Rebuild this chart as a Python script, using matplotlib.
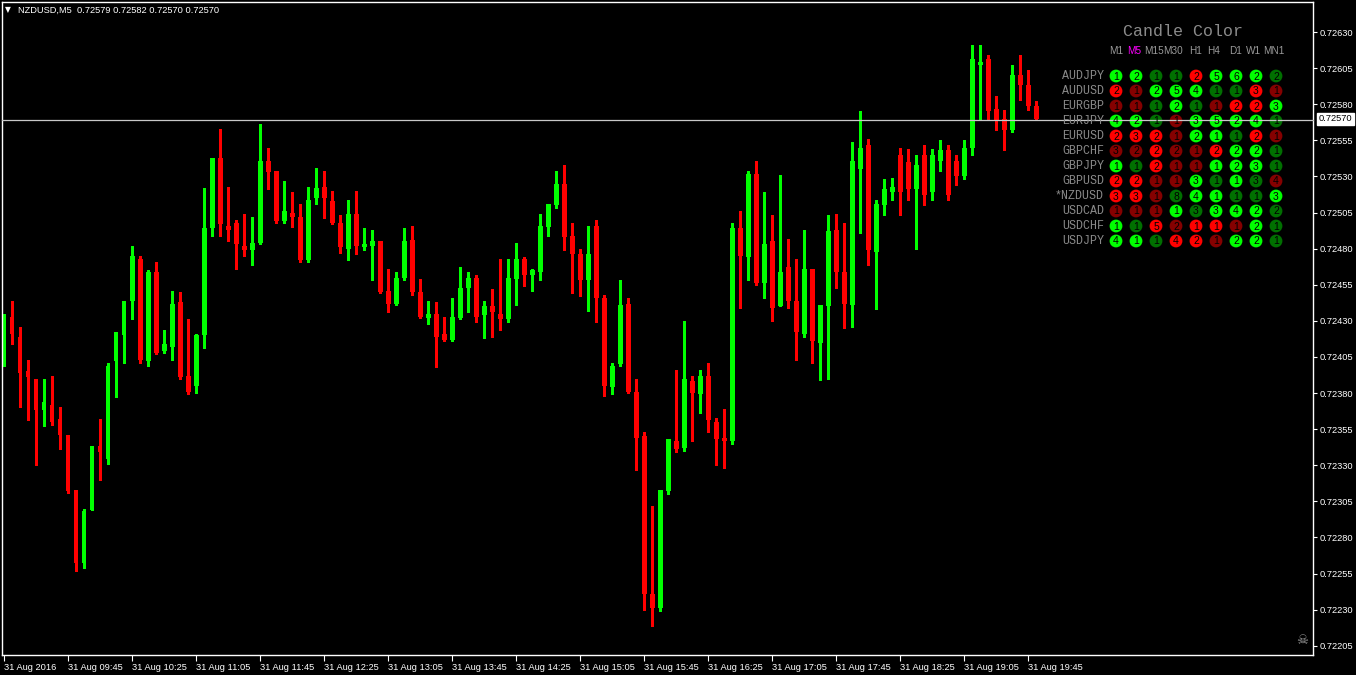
import matplotlib.pyplot as plt
from matplotlib.patches import Rectangle, Circle

plt.rcParams['font.family'] = ['Liberation Sans', 'DejaVu Sans']

# NZDUSD M5 candles, prices in points (1e-5)
opens = [72412, 72433, 72419, 72395, 72390, 72368, 72372, 72362, 72351, 72313,
         72262, 72299, 72343, 72334, 72402, 72420, 72444, 72473, 72402, 72464,
         72409, 72412, 72443, 72392, 72385, 72420, 72494, 72543, 72496, 72498,
         72482, 72479, 72484, 72541, 72534, 72499, 72505, 72502, 72472, 72515,
         72523, 72513, 72498, 72480, 72504, 72481, 72482, 72485, 72451, 72442,
         72460, 72486, 72450, 72432, 72435, 72421, 72417, 72432, 72453, 72460,
         72434, 72440, 72435, 72431, 72459, 72473, 72462, 72464, 72495, 72510,
         72525, 72489, 72476, 72458, 72496, 72446, 72384, 72400, 72442, 72381,
         72350, 72241, 72231, 72312, 72347, 72342, 72388, 72379, 72392, 72360,
         72349, 72347, 72494, 72474, 72532, 72456, 72485, 72440, 72467, 72444,
         72421, 72466, 72415, 72440, 72493, 72464, 72441, 72535, 72552, 72478,
         72510, 72519, 72545, 72540, 72521, 72545, 72519, 72541, 72548, 72541,
         72530, 72550, 72607, 72611, 72577, 72570, 72562, 72600, 72593, 72579]
highs = [72435, 72444, 72426, 72403, 72390, 72390, 72392, 72370, 72351, 72313,
         72300, 72343, 72362, 72401, 72422, 72444, 72482, 72475, 72465, 72471,
         72424, 72451, 72450, 72431, 72421, 72522, 72543, 72563, 72523, 72500,
         72504, 72502, 72566, 72550, 72534, 72527, 72519, 72511, 72523, 72536,
         72534, 72520, 72503, 72514, 72520, 72494, 72493, 72485, 72466, 72464,
         72494, 72496, 72459, 72444, 72443, 72433, 72446, 72467, 72464, 72462,
         72444, 72452, 72473, 72473, 72484, 72474, 72466, 72504, 72511, 72534,
         72538, 72498, 72480, 72496, 72500, 72448, 72401, 72458, 72446, 72390,
         72353, 72302, 72313, 72348, 72396, 72430, 72392, 72396, 72401, 72363,
         72369, 72498, 72506, 72534, 72541, 72519, 72503, 72531, 72487, 72473,
         72493, 72466, 72441, 72503, 72504, 72498, 72554, 72575, 72556, 72514,
         72528, 72529, 72550, 72549, 72545, 72552, 72549, 72555, 72552, 72545,
         72555, 72621, 72621, 72614, 72586, 72576, 72607, 72614, 72604, 72582]
lows = [72399, 72414, 72370, 72361, 72330, 72357, 72358, 72341, 72311, 72257,
        72259, 72299, 72320, 72331, 72377, 72401, 72431, 72401, 72399, 72407,
        72408, 72403, 72390, 72379, 72380, 72411, 72489, 72489, 72485, 72466,
        72475, 72469, 72483, 72521, 72498, 72498, 72495, 72471, 72471, 72511,
        72501, 72497, 72477, 72472, 72476, 72479, 72458, 72449, 72436, 72441,
        72458, 72448, 72432, 72428, 72398, 72416, 72416, 72431, 72436, 72429,
        72418, 72419, 72424, 72429, 72441, 72454, 72451, 72458, 72489, 72508,
        72479, 72449, 72447, 72437, 72429, 72378, 72379, 72399, 72380, 72327,
        72230, 72219, 72229, 72310, 72339, 72340, 72347, 72366, 72353, 72330,
        72328, 72345, 72439, 72458, 72455, 72446, 72430, 72440, 72439, 72403,
        72419, 72401, 72389, 72390, 72453, 72425, 72426, 72491, 72469, 72438,
        72503, 72514, 72503, 72514, 72480, 72510, 72514, 72534, 72514, 72524,
        72528, 72545, 72569, 72569, 72562, 72548, 72561, 72583, 72576, 72570]
closes = [72433, 72421, 72394, 72391, 72368, 72374, 72360, 72351, 72312, 72262,
          72298, 72343, 72339, 72399, 72422, 72444, 72475, 72403, 72464, 72408,
          72414, 72442, 72391, 72381, 72420, 72494, 72543, 72497, 72493, 72483,
          72479, 72484, 72541, 72533, 72499, 72506, 72502, 72472, 72514, 72522,
          72515, 72498, 72481, 72504, 72482, 72483, 72485, 72450, 72442, 72460,
          72485, 72450, 72433, 72435, 72419, 72417, 72433, 72453, 72460, 72433,
          72440, 72436, 72431, 72460, 72473, 72462, 72465, 72496, 72511, 72525,
          72488, 72476, 72458, 72476, 72446, 72385, 72399, 72441, 72381, 72349,
          72241, 72231, 72313, 72348, 72341, 72390, 72380, 72392, 72361, 72348,
          72347, 72494, 72475, 72532, 72456, 72483, 72439, 72464, 72444, 72422,
          72466, 72416, 72441, 72492, 72464, 72442, 72541, 72550, 72479, 72511,
          72521, 72523, 72519, 72521, 72538, 72517, 72545, 72548, 72517, 72530,
          72550, 72611, 72609, 72575, 72569, 72562, 72600, 72593, 72579, 72570]

time_labels = ['31 Aug 2016', '31 Aug 09:45', '31 Aug 10:25', '31 Aug 11:05',
               '31 Aug 11:45', '31 Aug 12:25', '31 Aug 13:05', '31 Aug 13:45',
               '31 Aug 14:25', '31 Aug 15:05', '31 Aug 15:45', '31 Aug 16:25',
               '31 Aug 17:05', '31 Aug 17:45', '31 Aug 18:25', '31 Aug 19:05',
               '31 Aug 19:45']
price_ticks = [72205, 72230, 72255, 72280, 72305, 72330, 72355, 72380, 72405,
               72430, 72455, 72480, 72505, 72530, 72555, 72580, 72605, 72630]
last_price = 72570

# Candle Color panel
symbols = ['AUDJPY', 'AUDUSD', 'EURGBP', 'EURJPY', 'EURUSD', 'GBPCHF',
           'GBPJPY', 'GBPUSD', '*NZDUSD', 'USDCAD', 'USDCHF', 'USDJPY']
timeframes = ['M1', 'M5', 'M15', 'M30', 'H1', 'H4', 'D1', 'W1', 'MN1']
cell_counts = [[1, 2, 1, 1, 2, 5, 6, 2, 2],
               [2, 1, 2, 5, 4, 1, 1, 3, 1],
               [1, 1, 1, 2, 1, 1, 2, 2, 3],
               [4, 2, 1, 1, 3, 5, 2, 4, 1],
               [2, 3, 2, 1, 2, 1, 1, 2, 1],
               [3, 2, 2, 2, 1, 2, 2, 2, 1],
               [1, 1, 2, 1, 1, 1, 2, 3, 1],
               [2, 2, 1, 1, 3, 1, 1, 3, 4],
               [3, 3, 1, 8, 4, 1, 1, 1, 3],
               [1, 1, 1, 1, 3, 3, 4, 2, 2],
               [1, 1, 5, 2, 1, 1, 1, 2, 1],
               [4, 1, 1, 4, 2, 1, 2, 2, 1]]
cell_codes = ['GGggRGGGg', 'RrGGGggRr', 'rrgGgrRRG', 'GGgrGGGGg',
              'RRRrGGgRr', 'rrRrrRGGg', 'GgRrrGGGg', 'RRrrGgGgr',
              'RRrgGGggG', 'rrrGgGGGg', 'GgRrRRrGg', 'GGgRRrGGg']
code_colors = {'G': '#00ff00', 'g': '#007000', 'R': '#ff0000', 'r': '#850000'}

W, H = 1356, 675
fig = plt.figure(figsize=(W / 100, H / 100), dpi=100, facecolor='black')
ax = fig.add_axes([2 / W, 20 / H, 1311 / W, 653 / H], facecolor='black')

up, down = '#00ff00', '#ff0000'
for i, (o, h, l, c) in enumerate(zip(opens, highs, lows, closes)):
    col = up if c >= o else down
    ax.vlines(i, l, h, color=col, lw=0.75, antialiased=False)
    ax.add_patch(Rectangle((i - 0.31, min(o, c)), 0.62, max(abs(c - o), 0.7),
                           facecolor=col, edgecolor='none', antialiased=False))

ax.set_xlim(-0.25, 163.6)
ax.set_ylim(72198.6, 72650.8)
ax.set_xticks(range(0, 8 * len(time_labels), 8))
ax.set_xticklabels(time_labels, ha='left')
ax.yaxis.tick_right()
ax.set_yticks(price_ticks)
ax.set_yticklabels([f'{p / 1e5:.5f}' for p in price_ticks])
ax.tick_params(axis='x', colors='white', length=4, width=0.8, pad=2, labelsize=6.7)
ax.tick_params(axis='y', colors='white', length=3, width=0.8, pad=2, labelsize=6.7)
for s in ax.spines.values():
    s.set_color('white')
    s.set_linewidth(1)

ax.annotate(f'{last_price / 1e5:.5f}', xy=(1.0, last_price),
            xycoords=('axes fraction', 'data'), xytext=(4, 0),
            textcoords='offset points', va='center', ha='left',
            fontsize=6.7, color='black',
            bbox=dict(boxstyle='square,pad=0.15', fc='white', ec='white'))

# overlay in pixel coords for the panel and header
ov = fig.add_axes([0, 0, 1, 1])
ov.set_xlim(0, W)
ov.set_ylim(H, 0)
ov.axis('off')
ov.patch.set_alpha(0)

ov.text(8, 10, '▼', color='white', fontsize=5.5, ha='center', va='center',
        family='DejaVu Sans')
ov.text(18, 10, 'NZDUSD,M5  0.72579 0.72582 0.72570 0.72570', color='white',
        fontsize=6.7, ha='left', va='center')

ov.text(1183, 32, 'Candle Color', color='#8a8a8a', fontsize=12, ha='center',
        va='center', family='Liberation Mono')

col_x = [1116 + 20 * k for k in range(len(timeframes))]
head_x = [1116, 1134, 1154, 1173, 1196, 1214, 1236, 1254, 1274]
for k, tf in enumerate(timeframes):
    ov.text(head_x[k], 51, tf, color='#ff00ff' if tf == 'M5' else '#9a9a9a',
            fontsize=7.2, ha='center', va='center')

for r, sym in enumerate(symbols):
    y = 76 + 15 * r
    ov.text(1104, y, sym, color='#8a8a8a', fontsize=8.4, ha='right',
            va='center', family='Liberation Mono')
    for k in range(len(timeframes)):
        ov.add_patch(Circle((col_x[k], y), 6.4, facecolor=code_colors[cell_codes[r][k]],
                            edgecolor='none'))
        ov.text(col_x[k], y + 0.5, str(cell_counts[r][k]), color='black',
                fontsize=7.5, ha='center', va='center')

# current price line, drawn over the panel as in the terminal
ov.axhline(119.5, color='#c8c8c8', lw=0.9, xmin=2 / W, xmax=1313 / W)

ov.text(1302, 640, '☠', color='#9a9a9a', fontsize=9.5, ha='center', va='center',
        family='DejaVu Sans')

fig.savefig('out.png', dpi=100, facecolor='black')
